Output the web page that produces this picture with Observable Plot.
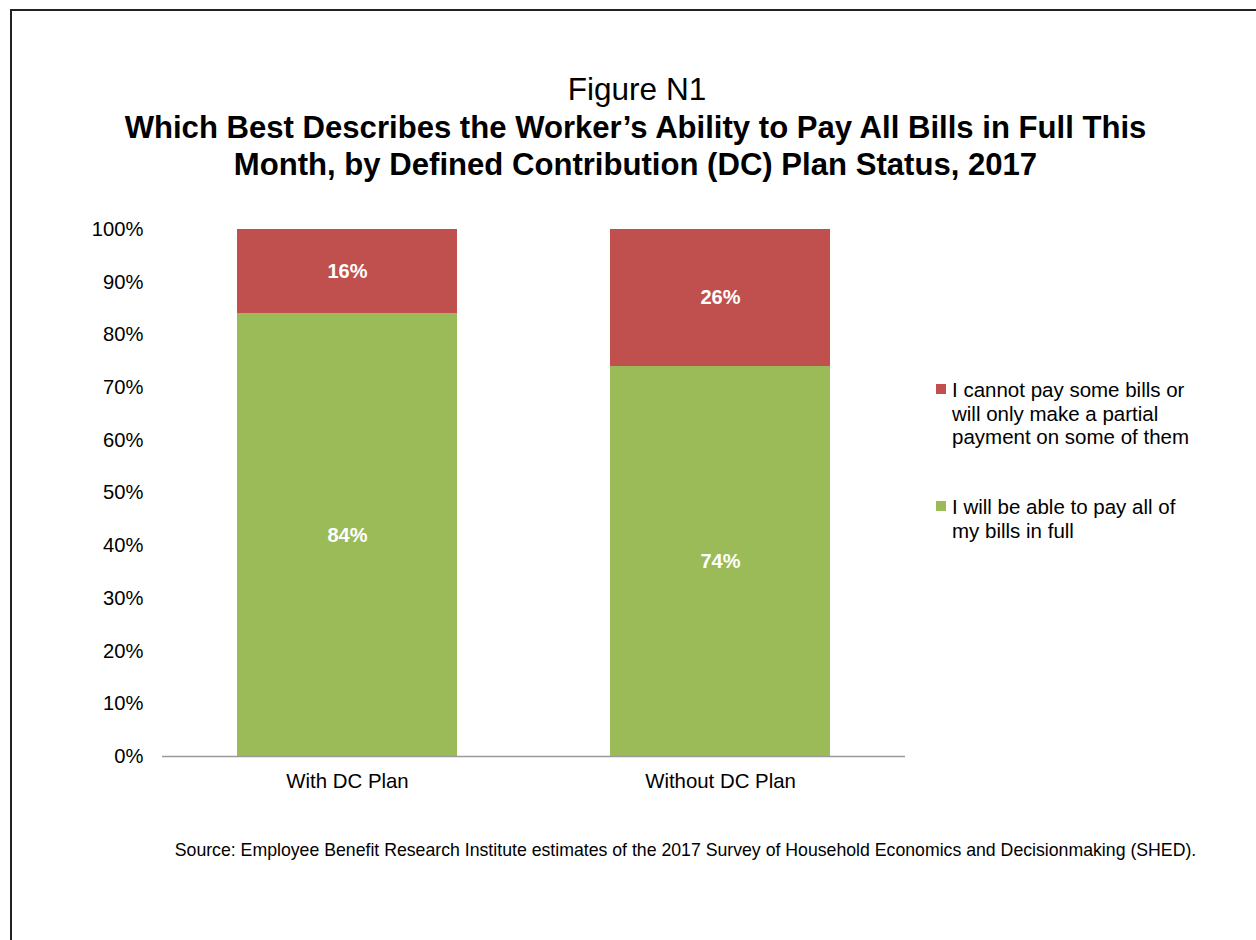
<!DOCTYPE html>
<html>
<head>
<meta charset="utf-8">
<script src="https://cdn.jsdelivr.net/npm/d3@7"></script>
<script src="https://cdn.jsdelivr.net/npm/@observablehq/plot@0.6"></script>
<style>
  html, body { margin: 0; padding: 0; background: #fff; overflow: hidden; }
  body { width: 1256px; height: 940px; position: relative; font-family: "Liberation Sans", Arial, sans-serif; color: #000; }
  #frame { position: absolute; left: 10px; top: 9px; width: 1400px; height: 1100px; border-left: 2px solid #222; border-top: 2px solid #222; }
  .t { position: absolute; white-space: nowrap; }
  #chart { position: absolute; left: 0; top: 0; }
  .leg { position: absolute; left: 936px; font-size: 20.5px; line-height: 23.5px; }
  .sw { position: absolute; width: 10px; height: 10px; }
</style>
</head>
<body>
<div id="frame"></div>
<div id="chart"></div>
<div class="t" id="fig" style="left:0;width:1274px;text-align:center;top:74px;font-size:31.5px;line-height:31.5px;">Figure N1</div>
<div class="t" id="t1" style="left:0;width:1271px;text-align:center;top:111.5px;font-size:31.1px;line-height:31px;font-weight:bold;">Which Best Describes the Worker’s Ability to Pay All Bills in Full This</div>
<div class="t" id="t2" style="left:0;width:1271px;text-align:center;top:148.8px;font-size:31.1px;line-height:31px;font-weight:bold;">Month, by Defined Contribution (DC) Plan Status, 2017</div>
<div id="legend"></div>
<div class="t" id="src" style="left:0;width:1371px;text-align:center;top:842px;font-size:17.7px;line-height:17.7px;">Source: Employee Benefit Research Institute estimates of the 2017 Survey of Household Economics and Decisionmaking (SHED).</div>
<script>
// ---- data ----
const categories = ["With DC Plan", "Without DC Plan"];
const seriesNames = [
  "I will be able to pay all of my bills in full",
  "I cannot pay some bills or will only make a partial payment on some of them"
];
const payAllValues = [84, 74];
const cannotPayValues = [16, 26];
const seriesColors = ["#9BBB59", "#C0504D"];
const yTicks = [0, 10, 20, 30, 40, 50, 60, 70, 80, 90, 100];
const legendLines = [
  ["I cannot pay some bills or", "will only make a partial", "payment on some of them"],
  ["I will be able to pay all of", "my bills in full"]
];

const rows = [];
categories.forEach((c, i) => {
  rows.push({category: c, series: seriesNames[0], value: payAllValues[i]});
  rows.push({category: c, series: seriesNames[1], value: cannotPayValues[i]});
});

const W = 1256, H = 800;
const chart = Plot.plot({
  width: W,
  height: H,
  marginLeft: 162,
  marginRight: 351,
  marginTop: 229,
  marginBottom: 44,
  style: {fontFamily: '"Liberation Sans", Arial, sans-serif', fontSize: "20px", background: "transparent", color: "#000"},
  x: {domain: categories, paddingInner: 0.41, paddingOuter: 0.2, label: null},
  y: {domain: [0, 100], label: null},
  color: {domain: seriesNames, range: seriesColors},
  marks: [
    Plot.axisY({ticks: yTicks, tickFormat: d => d + "%", tickSize: 0, tickPadding: 19, label: null, fontSize: 20.2}),
    Plot.axisX({tickSize: 0, tickPadding: 17, label: null, fontSize: 20.4}),
    Plot.barY(rows, {x: "category", y: "value", fill: "series", z: "series", order: seriesNames}),
    Plot.ruleY([0], {stroke: "#9a9a9a", strokeWidth: 1.6}),
    Plot.text(rows, Plot.stackY({x: "category", y: "value", z: "series", order: seriesNames, text: d => d.value + "%", fill: "white", fontWeight: "bold", fontSize: 20}))
  ]
});
document.getElementById("chart").appendChild(chart);

// legend
const legend = document.getElementById("legend");
const legTops = [378, 495];
const legOrder = [1, 0];
legOrder.forEach((si, k) => {
  const sw = document.createElement("div");
  sw.className = "sw";
  sw.style.left = "936px";
  sw.style.top = (legTops[k] + 6) + "px";
  sw.style.background = seriesColors[si];
  legend.appendChild(sw);
  const tx = document.createElement("div");
  tx.className = "leg";
  tx.style.left = "952px";
  tx.style.top = legTops[k] + "px";
  tx.innerHTML = legendLines[k].join("<br>");
  legend.appendChild(tx);
});
</script>
</body>
</html>
